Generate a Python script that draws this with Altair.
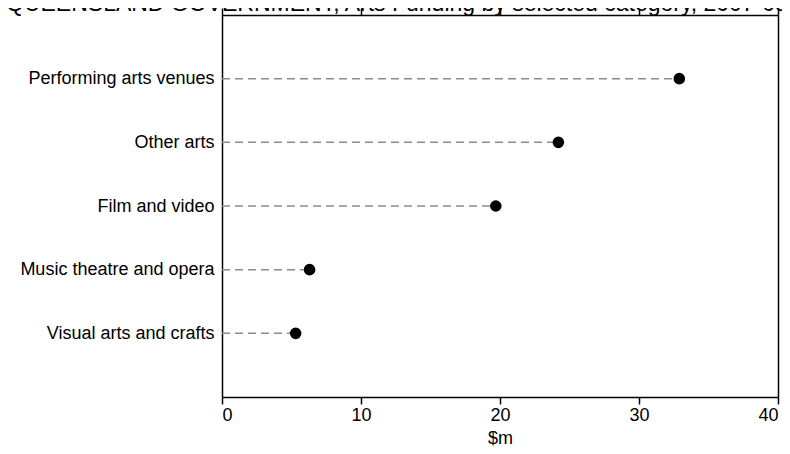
import altair as alt
import pandas as pd

categories = ["Performing arts venues", "Other arts", "Film and video",
              "Music theatre and opera", "Visual arts and crafts"]
values = [32.9, 24.2, 19.7, 6.3, 5.3]
x_ticks = [0, 10, 20, 30, 40]
title_text = "QUEENSLAND GOVERNMENT, Arts Funding by selected category, 2007-08"

df = pd.DataFrame({"category": categories, "value": values, "zero": [0] * len(values)})

FONT = "Liberation Sans"
FS = 18

y_enc = alt.Y("category:N", sort=categories, scale=alt.Scale(type="point", padding=1),
              axis=alt.Axis(title=None, ticks=False, labelFontSize=FS, labelPadding=8,
                            labelLimit=400, labelColor="black", domainColor="black",
                            domainWidth=1.5, labelFont=FONT))

x_scale = alt.Scale(domain=[0, 40], nice=False)

rules = alt.Chart(df).mark_rule(color="#8c8c8c", strokeWidth=1.5, strokeDash=[8, 5]).encode(
    x=alt.X("zero:Q", scale=x_scale,
            axis=alt.Axis(title="$m", values=x_ticks, orient="bottom", grid=False,
                          tickSize=7, tickWidth=1.5, tickColor="black",
                          domainColor="black", domainWidth=1.5,
                          labelFontSize=FS, labelColor="black", labelFont=FONT,
                          labelPadding=2, titleFontSize=FS, titleFont=FONT,
                          titleFontWeight="normal", titleColor="black", titlePadding=5)),
    x2="value:Q",
    y=y_enc,
)

dots = alt.Chart(df).mark_circle(color="black", opacity=1, size=135).encode(
    x=alt.X("value:Q", scale=x_scale,
            axis=alt.Axis(title=None, values=x_ticks, orient="top", grid=False,
                          labels=False, tickSize=7, tickWidth=1.5, tickColor="black",
                          domainColor="black", domainWidth=1.5)),
    y=alt.Y("category:N", sort=categories, scale=alt.Scale(type="point", padding=1),
            axis=alt.Axis(title=None, orient="right", labels=False, ticks=False,
                          domainColor="black", domainWidth=1.5)),
)

chart = alt.layer(rules, dots).resolve_axis(x="independent", y="independent").properties(
    width=556,
    height=382,
    autosize=alt.AutoSizeParams(type="none"),
    padding={"left": 214, "top": 7, "right": 4, "bottom": 50},
    title=alt.TitleParams(title_text, anchor="start", frame="group", dx=-216, dy=27,
                          fontSize=23, font=FONT, fontWeight="normal", color="black",
                          baseline="alphabetic", offset=0),
).configure_view(stroke=None)

chart.save("out.html", embed_options={"renderer": "svg", "actions": False})
